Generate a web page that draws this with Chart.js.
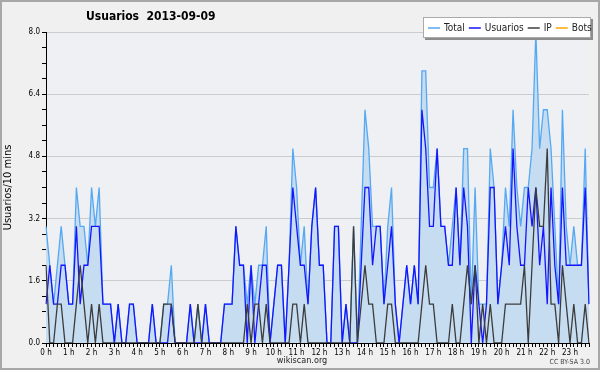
<!DOCTYPE html>
<html>
<head>
<meta charset="utf-8">
<script src="https://cdn.jsdelivr.net/npm/chart.js@4/dist/chart.umd.min.js"></script>
<style>
  html, body { margin: 0; padding: 0; background: #f0f0f0; }
  canvas { display: block; }
</style>
</head>
<body>
<canvas id="chart" width="600" height="370"></canvas>
<script>
// 10-minute slots of 2013-09-09
const hourLabels = ["0 h", "1 h", "2 h", "3 h", "4 h", "5 h", "6 h", "7 h", "8 h", "9 h", "10 h", "11 h",
  "12 h", "13 h", "14 h", "15 h", "16 h", "17 h", "18 h", "19 h", "20 h", "21 h", "22 h", "23 h"];

const total = [
  3, 2, 1, 2, 3, 2, 1, 1, 4, 3, 3, 2,
  4, 3, 4, 1, 1, 1, 0, 1, 0, 0, 1, 1,
  0, 0, 0, 0, 1, 0, 0, 1, 1, 2, 0, 0,
  0, 0, 1, 0, 1, 0, 1, 0, 0, 0, 0, 1,
  1, 1, 3, 2, 2, 1, 2, 1, 2, 2, 3, 0,
  1, 2, 2, 0, 2, 5, 4, 2, 3, 1, 3, 4,
  2, 2, 0, 0, 3, 3, 0, 1, 0, 3, 0, 3,
  6, 5, 3, 3, 3, 1, 3, 4, 1, 0, 1, 2,
  1, 2, 1, 7, 7, 4, 4, 5, 3, 3, 2, 3,
  4, 2, 5, 5, 1, 4, 1, 1, 1, 5, 4, 1,
  2, 4, 3, 6, 4, 3, 4, 4, 5, 8, 5, 6,
  6, 5, 3, 1, 6, 3, 2, 3, 2, 2, 5, 1
];
const usuarios = [
  1, 2, 1, 1, 2, 2, 1, 1, 3, 1, 2, 2,
  3, 3, 3, 1, 1, 1, 0, 1, 0, 0, 1, 1,
  0, 0, 0, 0, 1, 0, 0, 0, 0, 1, 0, 0,
  0, 0, 1, 0, 0, 0, 1, 0, 0, 0, 0, 1,
  1, 1, 3, 2, 2, 0, 2, 0, 1, 2, 2, 0,
  1, 2, 2, 0, 2, 4, 3, 2, 2, 1, 3, 4,
  2, 2, 0, 0, 3, 3, 0, 1, 0, 0, 0, 2,
  4, 4, 2, 3, 3, 1, 2, 3, 1, 0, 1, 2,
  1, 2, 1, 6, 5, 3, 3, 5, 3, 3, 2, 2,
  4, 2, 4, 3, 0, 2, 1, 0, 1, 4, 4, 1,
  2, 3, 2, 5, 3, 2, 2, 4, 3, 4, 2, 3,
  1, 4, 2, 1, 4, 2, 2, 2, 2, 2, 4, 1
];
const ip = [
  2, 0, 0, 1, 1, 0, 0, 0, 1, 2, 1, 0,
  1, 0, 1, 0, 0, 0, 0, 0, 0, 0, 0, 0,
  0, 0, 0, 0, 0, 0, 0, 1, 1, 1, 0, 0,
  0, 0, 0, 0, 1, 0, 0, 0, 0, 0, 0, 0,
  0, 0, 0, 0, 0, 1, 0, 1, 1, 0, 1, 0,
  0, 0, 0, 0, 0, 1, 1, 0, 1, 0, 0, 0,
  0, 0, 0, 0, 0, 0, 0, 0, 0, 3, 0, 1,
  2, 1, 1, 0, 0, 0, 1, 1, 0, 0, 0, 0,
  0, 0, 0, 1, 2, 1, 1, 0, 0, 0, 0, 1,
  0, 0, 1, 2, 1, 2, 0, 1, 0, 1, 0, 0,
  0, 1, 1, 1, 1, 1, 2, 0, 2, 4, 3, 3,
  5, 1, 1, 0, 2, 1, 0, 1, 0, 0, 1, 0
];
const bots = [
  0, 0, 0, 0, 0, 0, 0, 0, 0, 0, 0, 0,
  0, 0, 0, 0, 0, 0, 0, 0, 0, 0, 0, 0,
  0, 0, 0, 0, 0, 0, 0, 0, 0, 0, 0, 0,
  0, 0, 0, 0, 0, 0, 0, 0, 0, 0, 0, 0,
  0, 0, 0, 0, 0, 0, 0, 0, 0, 0, 0, 0,
  0, 0, 0, 0, 0, 0, 0, 0, 0, 0, 0, 0,
  0, 0, 0, 0, 0, 0, 0, 0, 0, 0, 0, 0,
  0, 0, 0, 0, 0, 0, 0, 0, 0, 0, 0, 0,
  0, 0, 0, 0, 0, 0, 0, 0, 0, 0, 0, 0,
  0, 0, 0, 0, 0, 0, 0, 0, 0, 0, 0, 0,
  0, 0, 0, 0, 0, 0, 0, 0, 0, 0, 0, 0,
  0, 0, 0, 0, 0, 0, 0, 0, 0, 0, 0, 0
];

const slots = total.map((v, i) => i);
const FONT = '"DejaVu Sans Condensed", "DejaVu Sans", sans-serif';

// page background, plot background, title, legend box, credits
const frame = {
  id: "frame",
  beforeDraw(chart) {
    const { ctx, chartArea: a } = chart;
    ctx.save();
    ctx.fillStyle = "#f0f0f0";
    ctx.fillRect(0, 0, chart.width, chart.height);
    ctx.strokeStyle = "#a8a8a8";
    ctx.lineWidth = 2;
    ctx.strokeRect(1, 1, chart.width - 2, chart.height - 2);
    ctx.fillStyle = "#eef0f3";
    ctx.fillRect(a.left, a.top, a.right - a.left, a.bottom - a.top);
    ctx.restore();
  },
  afterDraw(chart) {
    const ctx = chart.ctx;
    ctx.save();
    ctx.fillStyle = "#000";
    ctx.textBaseline = "middle";
    ctx.font = "bold 12px " + FONT;
    ctx.fillText("Usuarios  2013-09-09", 86, 17);

    ctx.font = "9px " + FONT;
    ctx.textAlign = "center";
    ctx.fillStyle = "#222";
    ctx.fillText("wikiscan.org", 302, 361);
    ctx.font = "7px " + FONT;
    ctx.textAlign = "right";
    ctx.fillStyle = "#444";
    ctx.fillText("CC BY-SA 3.0", 590, 362);

    // legend
    const bx = 423, by = 17, bw = 168, bh = 21;
    ctx.fillStyle = "#8c8c8c";
    ctx.fillRect(bx + 2, by + 2, bw, bh);
    ctx.fillStyle = "#fff";
    ctx.fillRect(bx, by, bw, bh);
    ctx.strokeStyle = "#aaa";
    ctx.lineWidth = 1;
    ctx.strokeRect(bx + 0.5, by + 0.5, bw - 1, bh - 1);
    ctx.font = "10px " + FONT;
    ctx.textAlign = "left";
    let x = bx + 5;
    chart.data.datasets.forEach((ds) => {
      ctx.strokeStyle = ds.borderColor;
      ctx.lineWidth = 1.5;
      ctx.beginPath();
      ctx.moveTo(x, by + 11);
      ctx.lineTo(x + 12, by + 11);
      ctx.stroke();
      x += 16;
      ctx.fillStyle = "#222";
      ctx.fillText(ds.label, x, by + 11);
      x += ctx.measureText(ds.label).width + 4;
    });
    ctx.restore();
  }
};

new Chart(document.getElementById("chart"), {
  type: "line",
  data: {
    labels: slots,
    datasets: [
      { label: "Total", data: total, borderColor: "#55a8f2", backgroundColor: "#c6dcf0",
        fill: "origin", order: 4 },
      { label: "Usuarios", data: usuarios, borderColor: "#1515ff", order: 3 },
      { label: "IP", data: ip, borderColor: "#3c3c3c", order: 2 },
      { label: "Bots", data: bots, borderColor: "#ffa500", order: 5 }
    ]
  },
  options: {
    responsive: false,
    animation: false,
    layout: { padding: { left: 2, top: 32, right: 11, bottom: 0 } },
    elements: {
      line: { tension: 0, borderWidth: 1.3 },
      point: { radius: 0 }
    },
    plugins: {
      legend: { display: false },
      title: { display: false },
      tooltip: { enabled: false }
    },
    scales: {
      x: {
        type: "category",
        offset: false,
        z: 1,
        border: { color: "#000", width: 1 },
        grid: { drawOnChartArea: false, tickLength: 4, tickColor: "#000" },
        ticks: {
          autoSkip: false, maxRotation: 0, minRotation: 0, padding: 1,
          color: "#000", font: { family: FONT, size: 8 },
          callback: (v, i) => (i % 6 === 0 ? hourLabels[i / 6] : "")
        },
        afterFit: (s) => { s.height = 27; }
      },
      y: {
        min: 0,
        max: 8,
        border: { color: "#000", width: 1 },
        grid: {
          tickLength: 4,
          tickColor: "#000",
          color: (c) => {
            const k = Math.round(c.tick.value / 0.4);
            return k % 4 === 0 && k > 0 ? "#cccccc" : "rgba(0,0,0,0)";
          }
        },
        ticks: {
          stepSize: 0.4, padding: 2, color: "#000",
          font: { family: FONT, size: 8 },
          callback: (v) => (Math.round(v / 0.4) % 4 === 0 ? v.toFixed(1) : "")
        },
        title: {
          display: true, text: "Usuarios/10 mins", color: "#000",
          font: { family: FONT, size: 11 }, padding: { top: 0, bottom: 0 }
        },
        afterFit: (s) => { s.width = 44; }
      }
    }
  },
  plugins: [frame]
});
</script>
</body>
</html>
